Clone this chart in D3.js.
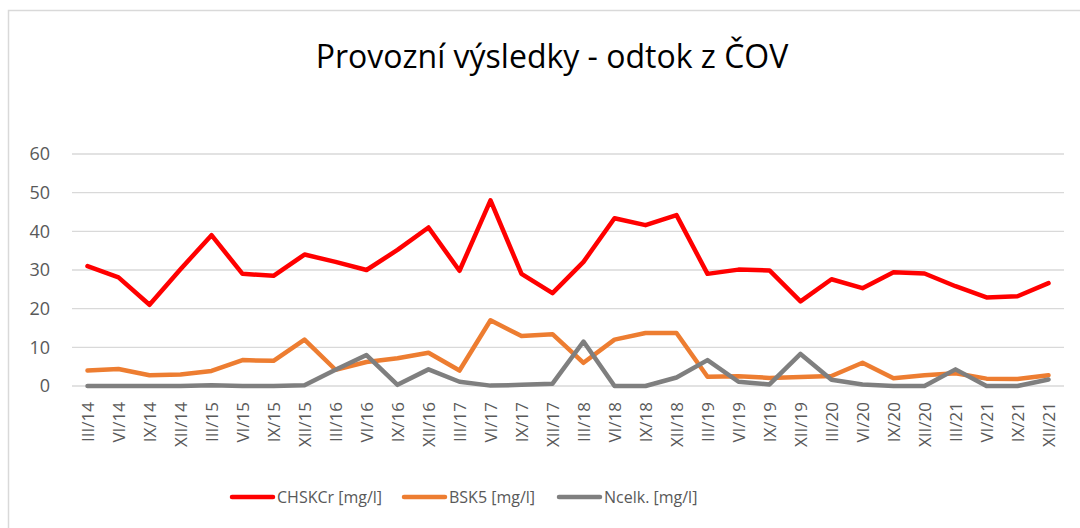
<!DOCTYPE html>
<html>
<head>
<meta charset="utf-8">
<script src="https://cdn.jsdelivr.net/npm/d3@7"></script>
<style>
    body { margin: 0; background: #fff; }
    svg { display: block; font-family: "Open Sans", "Noto Sans", sans-serif; }
</style>
</head>
<body>
<svg id="chart" width="1080" height="528"></svg>
<script>
var categories = ["III/14", "VI/14", "IX/14", "XII/14", "III/15", "VI/15", "IX/15", "XII/15",
    "III/16", "VI/16", "IX/16", "XII/16", "III/17", "VI/17", "IX/17", "XII/17",
    "III/18", "VI/18", "IX/18", "XII/18", "III/19", "VI/19", "IX/19", "XII/19",
    "III/20", "VI/20", "IX/20", "XII/20", "III/21", "VI/21", "IX/21", "XII/21"];

var chskcr = [31, 28.1, 21, 30.2, 39, 29, 28.5, 34,
    32.1, 30, 35.2, 41, 29.8, 48, 29, 24,
    32.1, 43.4, 41.6, 44.2, 29, 30.1, 29.9, 21.9,
    27.6, 25.3, 29.4, 29.1, 25.8, 22.9, 23.2, 26.6];

var bsk5 = [4, 4.4, 2.8, 3, 3.9, 6.7, 6.5, 12,
    4.2, 6.2, 7.2, 8.6, 4, 17, 12.9, 13.4,
    6, 12, 13.7, 13.7, 2.4, 2.5, 2.1, 2.3,
    2.6, 6, 2, 2.8, 3.3, 1.9, 1.8, 2.8];

var ncelk = [0, 0, 0, 0, 0.2, 0, 0, 0.2,
    4.2, 8, 0.3, 4.3, 1.1, 0.1, 0.3, 0.6,
    11.5, 0, 0, 2.2, 6.7, 1.1, 0.4, 8.3,
    1.6, 0.4, 0, 0, 4.3, 0, 0, 1.7];

var yTicks = [0, 10, 20, 30, 40, 50, 60];

var seriesNames = ["CHSKCr [mg/l]", "BSK5 [mg/l]", "Ncelk. [mg/l]"];
var seriesColors = ["#ff0000", "#ed7d31", "#7f7f7f"];

var svg = d3.select("#chart");

// chart border
svg.append("rect")
    .attr("x", 8.5).attr("y", 10.5)
    .attr("width", 1090).attr("height", 540)
    .attr("fill", "none")
    .attr("stroke", "#d9d9d9")
    .attr("stroke-width", 1.5);

svg.append("text")
    .attr("x", 552).attr("y", 68)
    .attr("text-anchor", "middle")
    .attr("font-size", 32)
    .attr("fill", "#000")
    .text("Provozní výsledky - odtok z ČOV");

var x = d3.scalePoint()
    .domain(categories)
    .range([72, 1064])
    .padding(0.5);

var y = d3.scaleLinear()
    .domain([0, 60])
    .range([386, 154]);

// gridlines
svg.append("g")
    .selectAll("line")
    .data(yTicks)
    .enter().append("line")
    .attr("x1", 72).attr("x2", 1064)
    .attr("y1", function(d) { return y(d); })
    .attr("y2", function(d) { return y(d); })
    .attr("stroke", "#d9d9d9")
    .attr("stroke-width", 1.3);

var yAxis = svg.append("g")
    .attr("transform", "translate(60,0)")
    .call(d3.axisLeft(y).tickValues(yTicks).tickSize(0).tickPadding(0));
yAxis.select(".domain").remove();
yAxis.selectAll("text")
    .attr("x", -10)
    .attr("font-family", "Open Sans")
    .attr("font-size", 18)
    .attr("fill", "#595959");

var xAxis = svg.append("g")
    .attr("transform", "translate(0,386)")
    .call(d3.axisBottom(x).tickSize(0));
xAxis.select(".domain").remove();
xAxis.selectAll("text")
    .attr("font-family", "Open Sans")
    .attr("font-size", 17)
    .attr("fill", "#595959")
    .attr("text-anchor", "end")
    .attr("transform", "rotate(-90)")
    .attr("x", -16)
    .attr("y", 0)
    .attr("dy", "0.35em");

var line = d3.line()
    .x(function(d, i) { return x(categories[i]); })
    .y(function(d) { return y(d); });

var allSeries = [chskcr, bsk5, ncelk];

allSeries.forEach(function(values, i) {
    svg.append("path")
        .datum(values)
        .attr("fill", "none")
        .attr("stroke", seriesColors[i])
        .attr("stroke-width", 4.5)
        .attr("stroke-linejoin", "round")
        .attr("stroke-linecap", "round")
        .attr("d", line);
});

// legend
var legendX = [232, 404, 559];
var legend = svg.append("g")
    .selectAll("g")
    .data(seriesNames)
    .enter().append("g")
    .attr("transform", function(d, i) { return "translate(" + legendX[i] + ",497)"; });

legend.append("line")
    .attr("x1", 0).attr("x2", 41)
    .attr("stroke", function(d, i) { return seriesColors[i]; })
    .attr("stroke-width", 4.5)
    .attr("stroke-linecap", "round");

legend.append("text")
    .attr("x", 45)
    .attr("dy", "0.35em")
    .attr("font-size", 16)
    .attr("fill", "#595959")
    .text(function(d) { return d; });
</script>
</body>
</html>
